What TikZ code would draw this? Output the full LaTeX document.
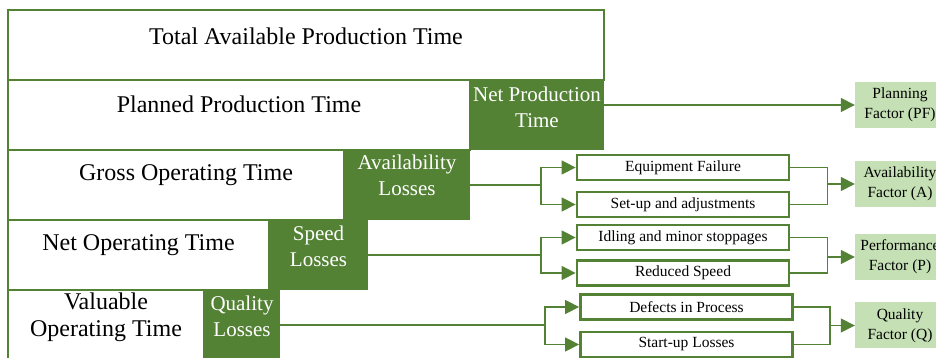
\documentclass[tikz,border=0pt]{standalone}
\usepackage{fontspec}
\setmainfont{Liberation Serif}
\usetikzlibrary{arrows.meta,calc,positioning}
\definecolor{oeegreen}{HTML}{548235}
\definecolor{oeelight}{HTML}{C5E0B4}
\tikzset{
  timebox/.style={draw=oeegreen, line width=2.8pt, fill=white, rectangle,
    inner sep=0pt, outer sep=0pt, anchor=north west, minimum height=70pt},
  lossbox/.style={fill=oeegreen, rectangle, inner sep=0pt, outer sep=0pt,
    minimum height=70pt},
  timetext/.style={font=\fontsize{24}{27}\selectfont, align=center, inner sep=0pt},
  losstext/.style={font=\fontsize{21}{26}\selectfont, text=white, align=center, inner sep=0pt},
  causebox/.style={draw=oeegreen, line width=2.8pt, fill=white, minimum width=212pt,
    minimum height=25pt, inner sep=0pt, font=\fontsize{15.5}{18}\selectfont},
  factorbox/.style={fill=oeelight, minimum width=90pt, minimum height=46pt,
    inner sep=0pt, align=center, font=\fontsize{15.5}{20}\selectfont},
  link/.style={draw=oeegreen, line width=1.5pt}
}

\begin{document}
\begin{tikzpicture}[x=1pt, y=1pt, >={Triangle[length=14pt,width=14pt]}]
\useasboundingbox (0,0) rectangle (936,358);

% --- Time staircase (left) ---
\node[timebox, minimum width=596pt] (tot) at (8,348) {};
\node[timebox, minimum width=462pt] (pl) at (8,278) {};
\node[lossbox, minimum width=134pt, right=0pt of pl] (npt) {};
\node[timebox, minimum width=336pt] (gro) at (8,208) {};
\node[lossbox, minimum width=126pt, right=0pt of gro] (avl) {};
\node[timebox, minimum width=261pt] (net) at (8,138) {};
\node[lossbox, minimum width=99pt, right=0pt of net] (spd) {};
\node[timebox, minimum width=196pt] (val) at (8,68) {};
\node[lossbox, minimum width=76pt, right=0pt of val] (qual) {};

% Labels
\node[timetext] (totT) at ([yshift=-26pt]tot.north) {Total Available Production Time};
\node[timetext] (plT) at ([yshift=-24pt]pl.north) {Planned Production Time};
\node[timetext] (groT) at ([xshift=10pt,yshift=-25pt]gro.north) {Gross Operating Time};
\node[timetext] (netT) at ([yshift=-25pt]net.north) {Net Operating Time};
\node[timetext] (valT) at ([yshift=-27pt]val.north) {Valuable\\Operating Time};
\node[losstext] (nptT) at ([yshift=8pt]npt.center) {Net Production\\Time};
\node[losstext] (avlT) at ([yshift=10pt]avl.center) {Availability\\Losses};
\node[losstext] (spdT) at ([yshift=9pt]spd.center) {Speed\\Losses};
\node[losstext] (qualT) at ([yshift=9pt]qual.center) {Quality\\Losses};

% --- Loss causes ---
\node[causebox] (eqf) at (683,190.5) {Equipment Failure};
\node[causebox] (setup) at (683,153.5) {Set-up and adjustments};
\node[causebox] (idle) at (683,120.5) {Idling and minor stoppages};
\node[causebox] (redsp) at (683,85) {Reduced Speed};
\node[causebox] (defect) at (686.5,51) {Defects in Process};
\node[causebox] (startup) at (686.5,13.5) {Start-up Losses};

% --- Factors (right) ---
\node[factorbox] (pfac) at (900,253) {Planning\\Factor (PF)};
\node[factorbox] (afac) at (900,174) {Availability\\Factor (A)};
\node[factorbox] (perf) at (900,101) {Performance\\Factor (P)};
\node[factorbox] (qfac) at (900,32.5) {Quality\\Factor (Q)};

% --- Connectors ---
\draw[link, ->] (npt.east |- pfac.west) -- (pfac.west);

\coordinate (fA) at ([xshift=71pt]avl.east);
\coordinate (fS) at ([xshift=173pt]spd.east);
\coordinate (fQ) at ([xshift=265pt]qual.east);
\coordinate (jA) at ($(eqf.east |- afac.west)+(37,0)$);
\coordinate (jS) at ($(idle.east |- perf.west)+(37,0)$);
\coordinate (jQ) at ($(defect.east |- qfac.west)+(36,0)$);

\draw[link] (avl.east) -- (fA);
\draw[link, ->] (fA) |- (eqf.west);
\draw[link, ->] (fA) |- (setup.west);
\draw[link] (eqf.east) -| (jA);
\draw[link] (setup.east) -| (jA);
\draw[link, ->] (jA) -- (afac.west);

\draw[link] (spd.east) -- (fS);
\draw[link, ->] (fS) |- (idle.west);
\draw[link, ->] (fS) |- (redsp.west);
\draw[link] (idle.east) -| (jS);
\draw[link] (redsp.east) -| (jS);
\draw[link, ->] (jS) -- (perf.west);

\draw[link] (qual.east) -- (fQ);
\draw[link, ->] (fQ) |- (defect.west);
\draw[link, ->] (fQ) |- (startup.west);
\draw[link] (defect.east) -| (jQ);
\draw[link] (startup.east) -| (jQ);
\draw[link, ->] (jQ) -- (qfac.west);

\end{tikzpicture}
\end{document}
